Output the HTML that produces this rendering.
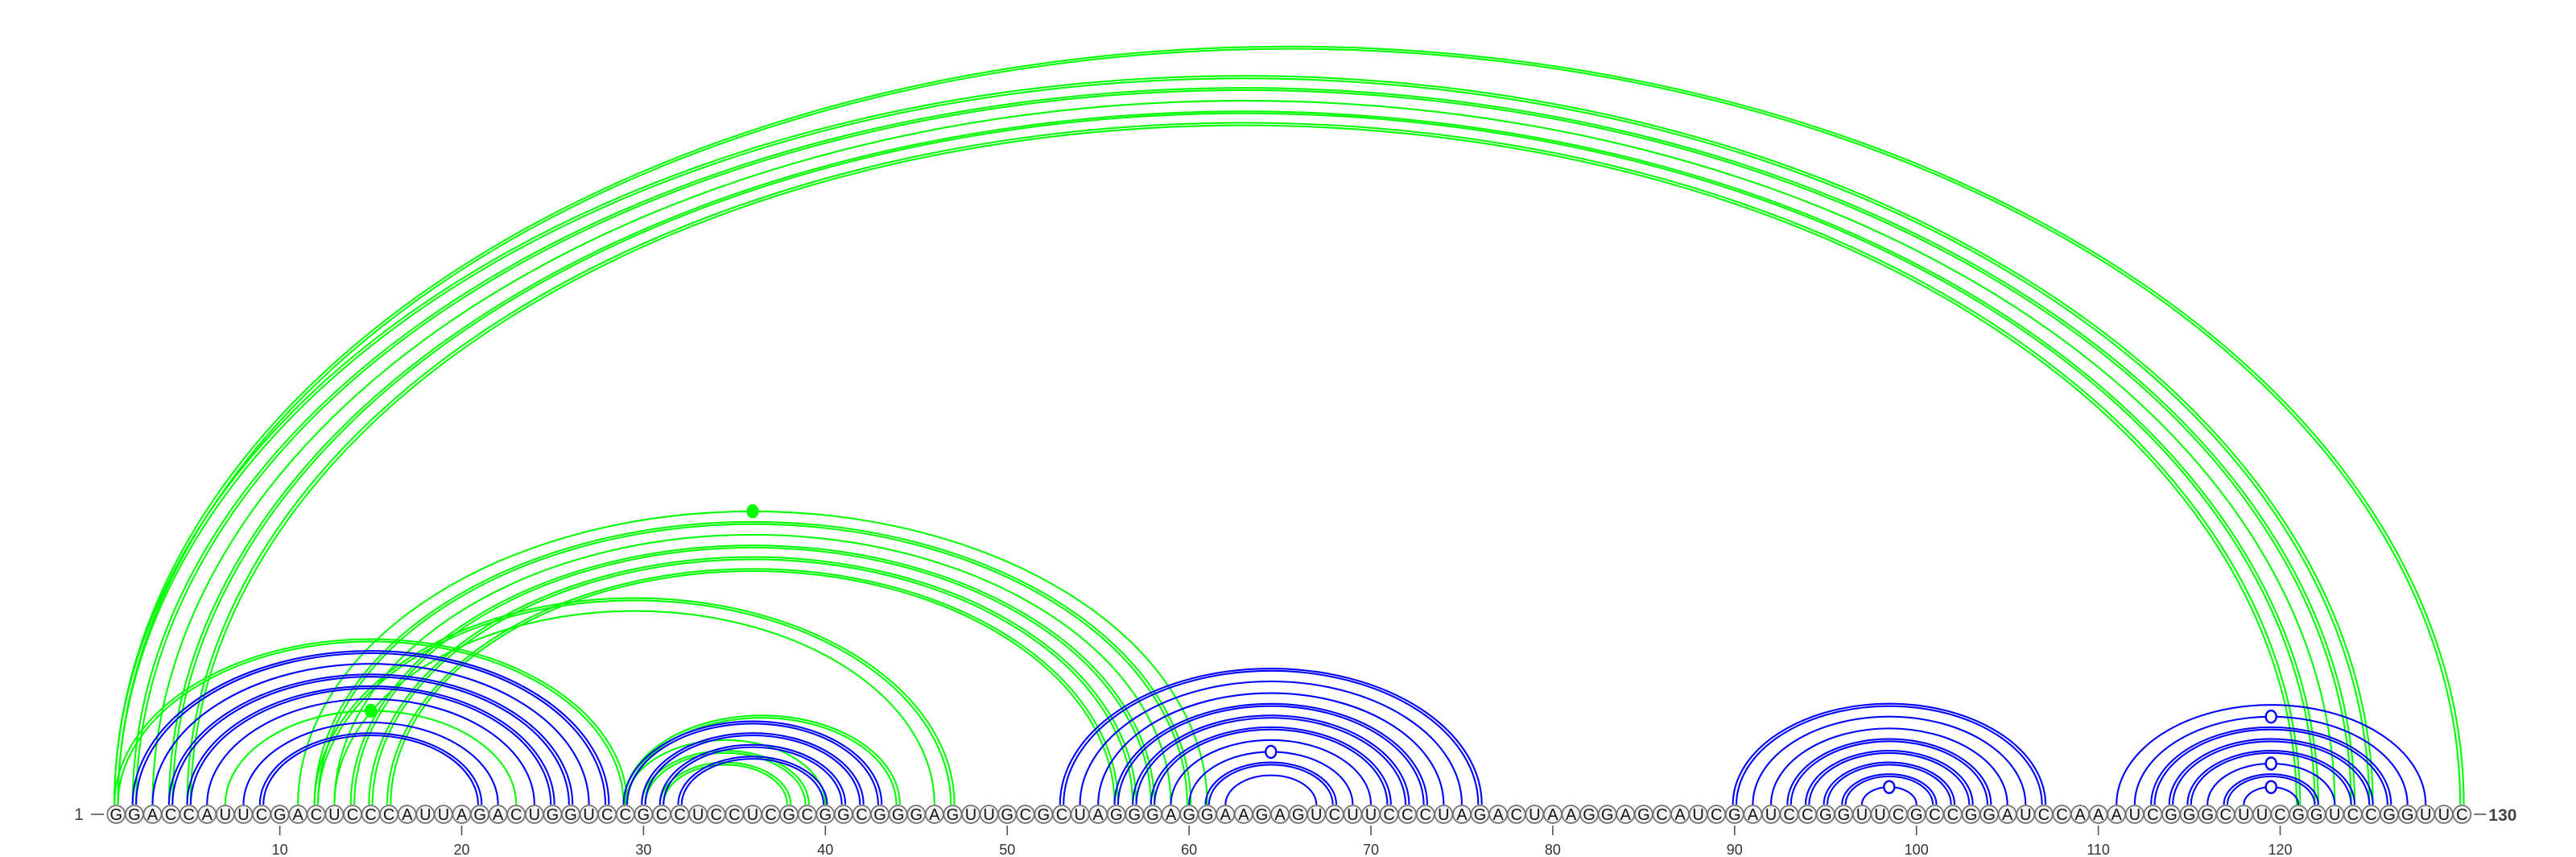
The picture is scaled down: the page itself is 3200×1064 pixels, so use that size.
<!DOCTYPE html>
<html><head><meta charset="utf-8"><style>
html,body{margin:0;padding:0;background:#fff;}
svg{display:block;}
text{font-family:"Liberation Sans",sans-serif;}
</style></head><body>
<svg id="chart" width="3200" height="1064" viewBox="0 0 3200 1064" xmlns="http://www.w3.org/2000/svg">
<g id="arcs"></g>
<g id="nts"></g>
<g id="axis"></g>
</svg>
<script>
const sequence = "GGACCAUUCGACUCCCAUUAGACUGGUCCGCCUCCUCGCGGCGGGAGUUGCGCUAGGGAGGAAGAGUCUUCCCUAGACUAAGGAGCAUCGAUCCGGUUCGCCGGAUCCAAAUCGGGCUUCGGUCCGGUUC";
// pair arrays: [i, j, double(1/0), marker(0 none,1 open circle,2 filled dot)]
const bluePairs = [
 [2,28,1,0],[3,27,0,0],[4,26,1,0],[5,25,1,0],[6,24,0,0],[8,22,0,0],[9,21,1,0],
 [29,43,1,0],[30,42,1,0],[31,41,1,0],[32,40,1,0],
 [53,76,1,0],[54,75,0,0],[55,74,0,0],[56,73,1,0],[57,72,1,0],[58,71,1,0],[59,70,0,0],[60,69,0,1],[61,68,1,0],[62,67,0,0],
 [90,107,1,0],[91,106,0,0],[92,105,0,0],[93,104,1,0],[94,103,1,0],[95,102,1,0],[96,101,1,0],[97,100,0,1],
 [111,128,0,0],[112,127,0,1],[113,126,1,0],[114,125,1,0],[115,124,1,0],[116,123,0,1],[117,122,1,0],[118,121,0,1]
];
const greenPairs = [
 [1,130,1,0],[1,125,1,0],[2,124,1,0],[3,123,0,0],[4,122,1,0],[5,121,1,0],
 [1,29,1,0],[7,23,0,2],
 [11,61,0,2],[12,60,1,0],[13,59,0,0],[14,58,1,0],[15,57,1,0],[16,56,1,0],
 [12,47,1,0],[13,46,0,0],
 [29,44,1,0],[29,40,0,0],[30,39,1,0],[31,38,1,0]
];
const tickPositions = [10,20,30,40,50,60,70,80,90,100,110,120];

const NS="http://www.w3.org/2000/svg";
const X0=144.3, DX=22.59, Y0=999, CY=1011, R=11, K=0.645;
function xOf(i){return X0+(i-1)*DX;}
function mk(tag,attrs,parent){const e=document.createElementNS(NS,tag);for(const k in attrs)e.setAttribute(k,attrs[k]);parent.appendChild(e);return e;}
const arcsG=document.getElementById('arcs');
function arcPath(a,b){const rx=(b-a)/2;const ry=rx*K;return `M ${a} ${Y0} A ${rx} ${ry} 0 0 1 ${b} ${Y0}`;}
function drawPairs(pairs,color,name){
  pairs.forEach(p=>{
    const a=xOf(p[0]), b=xOf(p[1]);
    const g=mk('g',{},arcsG);
    
    
    const offs = p[2] ? [-2.2,2.2] : [0];
    offs.forEach(o=>{
      mk('path',{d:arcPath(a+o,b-o),fill:'none',stroke:color,'stroke-width':2.1},g);
    });
    if(p[3]){
      const cx=(a+b)/2, cy=Y0-(b-a)/2*K;
      const m=mk('ellipse',{cx:cx,cy:cy,rx:6.5,ry:7.5,fill:p[3]===2?color:'#fff',stroke:color,'stroke-width':2.4},g);
      
      
    }
  });
}
drawPairs(greenPairs,'#00ff00','green-arc');
drawPairs(bluePairs,'#0000ff','blue-arc');

const ntG=document.getElementById('nts');
for(let i=1;i<=sequence.length;i++){
  const g=mk('g',{},ntG);
  
  
  mk('circle',{cx:xOf(i),cy:CY,r:R,fill:'#f2f2f2',stroke:'#707070','stroke-width':1.7},g);
  const t=mk('text',{x:xOf(i),y:CY+7.2,'text-anchor':'middle','font-size':20,fill:'#111'},g);
  t.textContent=sequence[i-1];
}
const ax=document.getElementById('axis');
tickPositions.forEach(v=>{
  const x=xOf(v);
  const l=mk('line',{x1:x,x2:x,y1:1025,y2:1037,stroke:'#555','stroke-width':1.6},ax);
  
  
  const t=mk('text',{x:x,y:1061,'text-anchor':'middle','font-size':18,fill:'#333'},ax);
  
  
  t.textContent=v;
});
const s=mk('text',{x:98,y:1018,'text-anchor':'middle','font-size':21,fill:'#444'},ax);


s.textContent='1';
mk('line',{x1:113,x2:129,y1:1011,y2:1011,stroke:'#555','stroke-width':1.6},ax);
const n=sequence.length;
mk('line',{x1:xOf(n)+15,x2:xOf(n)+30,y1:1011,y2:1011,stroke:'#555','stroke-width':1.6},ax);
const e=mk('text',{x:xOf(n)+33,y:1019,'font-size':21,'font-weight':'bold',fill:'#444'},ax);


e.textContent=String(n);
</script>
</body></html>
